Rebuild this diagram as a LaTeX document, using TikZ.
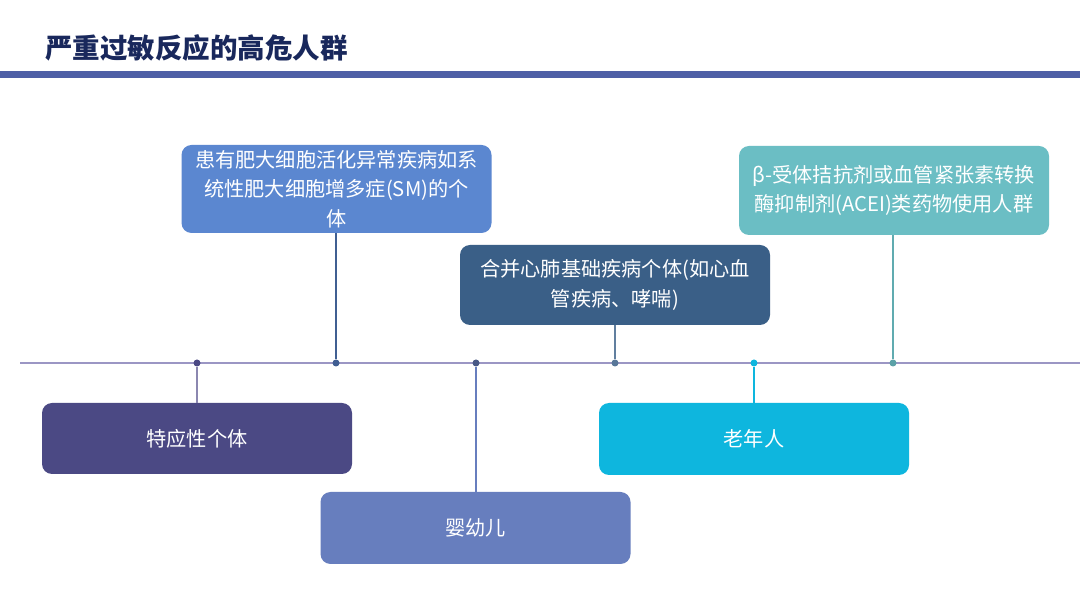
\documentclass[tikz,border=0pt]{standalone}
\usepackage{fontspec}
\setmainfont{Noto Sans CJK SC}
\usepackage{tikz}
\usepackage{xcolor}
\definecolor{title}{RGB}{25,40,92}
\definecolor{band}{RGB}{78,95,166}
\definecolor{axis}{RGB}{155,150,196}
\definecolor{mast}{RGB}{91,135,208}
\definecolor{cardio}{RGB}{58,95,135}
\definecolor{drug}{RGB}{107,190,196}
\definecolor{atopy}{RGB}{75,73,132}
\definecolor{infant}{RGB}{103,126,190}
\definecolor{elder}{RGB}{14,182,222}

\tikzset{
  riskbox/.style={rounded corners=10pt, text=white, align=center,
    minimum width=310pt, inner sep=0pt,
    font=\fontsize{20.2}{29.5}\selectfont},
  dot/.style={circle, inner sep=0pt, minimum size=7pt},
  stem/.style={line width=1.2pt}
}

\begin{document}
\begin{tikzpicture}[x=1pt, y=1pt]
  \useasboundingbox[fill=white] (0,0) rectangle (1080,608);

  % title and band
  \node[text=title, font=\fontsize{27.5}{30}\selectfont\bfseries] (heading) at (196.5,560) {严重过敏反应的高危人群};
  \fill[band] (0,530) rectangle (1080,537);

  % axis
  \coordinate (axisL) at (20,245);
  \coordinate (axisR) at (1080,245);
  \draw[axis, line width=2pt] (axisL) -- (axisR);

  \node[dot, fill=atopy] (d1) at (197,245) {};
  \node[dot, fill=mast!70!black] (d2) at (336,245) {};
  \node[dot, fill=infant!70!black] (d3) at (476,245) {};
  \node[dot, fill=cardio!85!white] (d4) at (615,245) {};
  \node[dot, fill=elder] (d5) at (754,245) {};
  \node[dot, fill=drug!85!black] (d6) at (893,245) {};

  % boxes above
  \node[riskbox, fill=mast, minimum height=88pt] (mastbox) at (336.5,419)
    {患有肥大细胞活化异常疾病如系\\统性肥大细胞增多症(SM)的个\\体};
  \node[riskbox, fill=cardio, minimum height=80pt] (cardiobox) at (615,323)
    {合并心肺基础疾病个体(如心血\\管疾病、哮喘)};
  \node[riskbox, fill=drug, minimum height=89pt] (drugbox) at (894,417.5)
    {β-受体拮抗剂或血管紧张素转换\\酶抑制剂(ACEI)类药物使用人群};

  % boxes below
  \node[riskbox, fill=atopy, minimum height=71pt] (atopybox) at (197,169.5) {特应性个体};
  \node[riskbox, fill=infant, minimum height=72pt] (infantbox) at (475.5,80) {婴幼儿};
  \node[riskbox, fill=elder, minimum height=72pt] (elderbox) at (754,169) {老年人};

  % stems
  \draw[stem, axis!90!black] (atopybox.north -| d1) -- (d1);
  \draw[stem, mast!70!black] (mastbox.south -| d2) -- (d2);
  \draw[stem, infant] (infantbox.north -| d3) -- (d3);
  \draw[stem, cardio!80!white] (cardiobox.south -| d4) -- (d4);
  \draw[stem, elder] (elderbox.north -| d5) -- (d5);
  \draw[stem, drug!90!black] (drugbox.south -| d6) -- (d6);
\end{tikzpicture}
\end{document}
